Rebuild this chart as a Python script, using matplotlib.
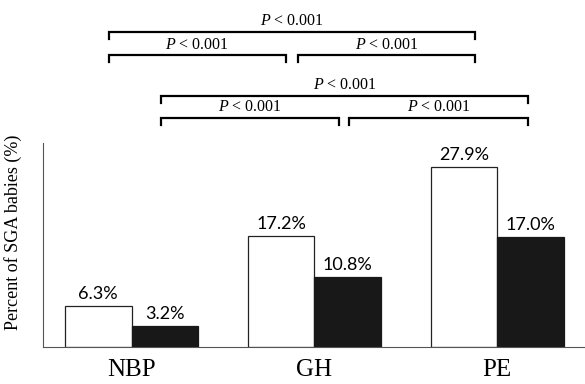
import matplotlib.pyplot as plt
import numpy as np

plt.rcParams["mathtext.fontset"] = "custom"
plt.rcParams["mathtext.it"] = "Liberation Serif:italic"
plt.rcParams["mathtext.rm"] = "Liberation Serif"

categories = ["NBP", "GH", "PE"]
white_vals = [6.3, 17.2, 27.9]
black_vals = [3.2, 10.8, 17.0]
value_labels_white = ["6.3%", "17.2%", "27.9%"]
value_labels_black = ["3.2%", "10.8%", "17.0%"]

# brackets: (x_start, x_end, y_level, label)
brackets = [
    (-0.125, 1.88, 48.8, "< 0.001"),
    (-0.125, 0.845, 45.2, "< 0.001"),
    (0.91, 1.88, 45.2, "< 0.001"),
    (0.163, 2.17, 38.9, "< 0.001"),
    (0.163, 1.134, 35.5, "< 0.001"),
    (1.19, 2.17, 35.5, "< 0.001"),
]

SERIF = "Liberation Serif"
SANS = "Lato"

fig = plt.figure(figsize=(5.85, 3.84), dpi=100)
ax = fig.add_axes([0.0735, 0.0964, 0.9265, 0.5312])

x = np.arange(len(categories))
w = 0.365
ax.bar(x - w / 2, white_vals, w, color="white", edgecolor="#222222", linewidth=0.9)
ax.bar(x + w / 2, black_vals, w, color="#181818", edgecolor="#181818", linewidth=0.9)

for xi, v, lab in zip(x - w / 2, white_vals, value_labels_white):
    ax.text(xi, v + 0.6, lab, ha="center", va="bottom", fontsize=13, family=SANS)
for xi, v, lab in zip(x + w / 2, black_vals, value_labels_black):
    ax.text(xi, v + 0.6, lab, ha="center", va="bottom", fontsize=13, family=SANS)

ax.set_xlim(-0.485, 2.48)
ax.set_ylim(0, 31.6)
ax.set_xticks(x)
ax.set_xticklabels(categories, fontsize=18, family=SERIF)
ax.tick_params(axis="x", length=0, pad=9)
ax.set_yticks([])
ax.spines["top"].set_visible(False)
ax.spines["right"].set_visible(False)
ax.spines["left"].set_color("#555555")
ax.spines["bottom"].set_color("#555555")
ax.set_ylabel("Percent of SGA babies (%)", fontsize=13, family=SERIF)
ax.yaxis.set_label_coords(-0.039, 0.56)

drop = 1.1
for x0, x1, y, lab in brackets:
    ax.plot([x0, x0, x1, x1], [y - drop, y, y, y - drop], color="black",
            linewidth=1.6, clip_on=False, solid_joinstyle="miter")
    ax.text((x0 + x1) / 2, y + 0.4, "$P$ " + lab, ha="center", va="bottom",
            fontsize=11.5, family=SERIF)

fig.savefig("out.png", dpi=100)
